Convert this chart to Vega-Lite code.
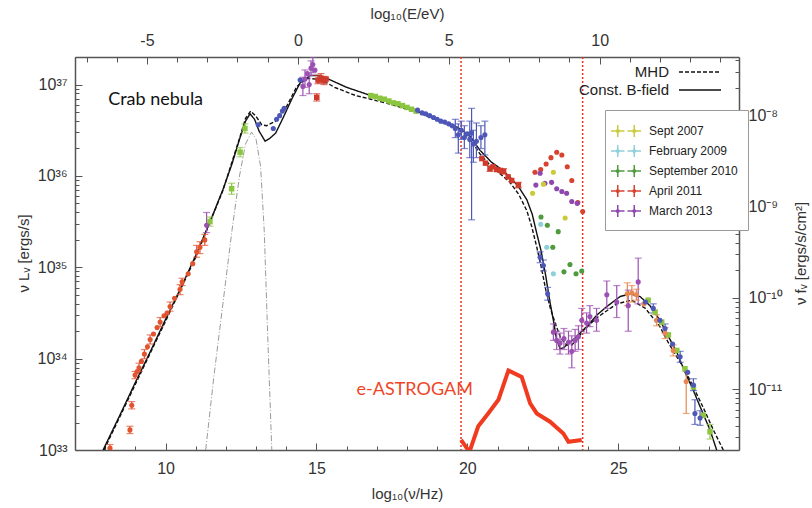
{
  "$schema": "https://vega.github.io/schema/vega-lite/v6.json",
  "width": 664,
  "height": 393,
  "autosize": "none",
  "padding": {"left": 75, "top": 57, "right": 73, "bottom": 58},
  "background": "white",
  "config": {
    "font": "Liberation Sans",
    "view": {"stroke": null},
    "axis": {
      "grid": false, "domainColor": "#555", "domainWidth": 1.5, "tickColor": "#555", "tickWidth": 1,
      "labelFont": "Liberation Sans", "labelFontSize": 16, "labelColor": "#333",
      "titleFont": "Liberation Sans", "titleFontSize": 15, "titleFontWeight": "normal", "titleColor": "#333",
      "labelOverlap": false, "labelFlush": false, "labelBound": false
    },
    "legend": {"labelFont": "Liberation Sans", "labelColor": "#222"}
  },
  "datasets": {
    "curves": [
      {"nu":7.93,"L":33.0,"model":"Const. B-field"},{"nu":8.5,"L":33.39,"model":"Const. B-field"},{"nu":9.0,"L":33.74,"model":"Const. B-field"},{"nu":9.5,"L":34.08,"model":"Const. B-field"},{"nu":10.0,"L":34.43,"model":"Const. B-field"},{"nu":10.5,"L":34.77,"model":"Const. B-field"},{"nu":11.0,"L":35.13,"model":"Const. B-field"},{"nu":11.5,"L":35.52,"model":"Const. B-field"},{"nu":11.9,"L":35.85,"model":"Const. B-field"},{"nu":12.2,"L":36.13,"model":"Const. B-field"},{"nu":12.45,"L":36.4,"model":"Const. B-field"},{"nu":12.65,"L":36.6,"model":"Const. B-field"},{"nu":12.8,"L":36.68,"model":"Const. B-field"},{"nu":12.95,"L":36.62,"model":"Const. B-field"},{"nu":13.1,"L":36.49,"model":"Const. B-field"},{"nu":13.3,"L":36.38,"model":"Const. B-field"},{"nu":13.45,"L":36.41,"model":"Const. B-field"},{"nu":13.65,"L":36.47,"model":"Const. B-field"},{"nu":13.9,"L":36.64,"model":"Const. B-field"},{"nu":14.18,"L":36.84,"model":"Const. B-field"},{"nu":14.46,"L":37.02,"model":"Const. B-field"},{"nu":14.8,"L":37.1,"model":"Const. B-field"},{"nu":15.1,"L":37.1,"model":"Const. B-field"},{"nu":15.4,"L":37.06,"model":"Const. B-field"},{"nu":16.0,"L":36.97,"model":"Const. B-field"},{"nu":16.8,"L":36.88,"model":"Const. B-field"},{"nu":17.5,"L":36.8,"model":"Const. B-field"},{"nu":18.4,"L":36.7,"model":"Const. B-field"},{"nu":19.0,"L":36.62,"model":"Const. B-field"},{"nu":19.5,"L":36.56,"model":"Const. B-field"},{"nu":19.8,"L":36.51,"model":"Const. B-field"},{"nu":20.1,"L":36.43,"model":"Const. B-field"},{"nu":20.42,"L":36.28,"model":"Const. B-field"},{"nu":20.8,"L":36.15,"model":"Const. B-field"},{"nu":21.1,"L":36.08,"model":"Const. B-field"},{"nu":21.41,"L":35.99,"model":"Const. B-field"},{"nu":21.7,"L":35.88,"model":"Const. B-field"},{"nu":21.97,"L":35.74,"model":"Const. B-field"},{"nu":22.15,"L":35.58,"model":"Const. B-field"},{"nu":22.3,"L":35.37,"model":"Const. B-field"},{"nu":22.45,"L":35.17,"model":"Const. B-field"},{"nu":22.6,"L":34.9,"model":"Const. B-field"},{"nu":22.72,"L":34.65,"model":"Const. B-field"},{"nu":22.85,"L":34.42,"model":"Const. B-field"},{"nu":22.95,"L":34.22,"model":"Const. B-field"},{"nu":23.07,"L":34.11,"model":"Const. B-field"},{"nu":23.2,"L":34.12,"model":"Const. B-field"},{"nu":23.35,"L":34.17,"model":"Const. B-field"},{"nu":23.55,"L":34.22,"model":"Const. B-field"},{"nu":23.95,"L":34.35,"model":"Const. B-field"},{"nu":24.3,"L":34.48,"model":"Const. B-field"},{"nu":24.62,"L":34.57,"model":"Const. B-field"},{"nu":25.06,"L":34.68,"model":"Const. B-field"},{"nu":25.4,"L":34.71,"model":"Const. B-field"},{"nu":25.72,"L":34.68,"model":"Const. B-field"},{"nu":26.05,"L":34.58,"model":"Const. B-field"},{"nu":26.38,"L":34.42,"model":"Const. B-field"},{"nu":26.65,"L":34.25,"model":"Const. B-field"},{"nu":26.94,"L":34.07,"model":"Const. B-field"},{"nu":27.2,"L":33.86,"model":"Const. B-field"},{"nu":27.49,"L":33.65,"model":"Const. B-field"},{"nu":27.78,"L":33.42,"model":"Const. B-field"},{"nu":28.04,"L":33.22,"model":"Const. B-field"},{"nu":28.26,"L":33.0,"model":"Const. B-field"},
      {"nu":7.96,"L":33.0,"model":"MHD"},{"nu":9.0,"L":33.72,"model":"MHD"},{"nu":10.0,"L":34.41,"model":"MHD"},{"nu":11.0,"L":35.11,"model":"MHD"},{"nu":11.9,"L":35.84,"model":"MHD"},{"nu":12.45,"L":36.41,"model":"MHD"},{"nu":12.65,"L":36.63,"model":"MHD"},{"nu":12.82,"L":36.71,"model":"MHD"},{"nu":12.98,"L":36.66,"model":"MHD"},{"nu":13.19,"L":36.56,"model":"MHD"},{"nu":13.35,"L":36.55,"model":"MHD"},{"nu":13.65,"L":36.6,"model":"MHD"},{"nu":14.01,"L":36.76,"model":"MHD"},{"nu":14.35,"L":36.98,"model":"MHD"},{"nu":14.7,"L":37.07,"model":"MHD"},{"nu":15.0,"L":37.06,"model":"MHD"},{"nu":15.34,"L":37.02,"model":"MHD"},{"nu":15.6,"L":36.97,"model":"MHD"},{"nu":16.3,"L":36.88,"model":"MHD"},{"nu":16.8,"L":36.84,"model":"MHD"},{"nu":17.5,"L":36.78,"model":"MHD"},{"nu":18.4,"L":36.69,"model":"MHD"},{"nu":19.0,"L":36.61,"model":"MHD"},{"nu":19.5,"L":36.54,"model":"MHD"},{"nu":19.8,"L":36.49,"model":"MHD"},{"nu":20.1,"L":36.4,"model":"MHD"},{"nu":20.42,"L":36.24,"model":"MHD"},{"nu":20.8,"L":36.1,"model":"MHD"},{"nu":21.1,"L":36.02,"model":"MHD"},{"nu":21.41,"L":35.93,"model":"MHD"},{"nu":21.7,"L":35.8,"model":"MHD"},{"nu":21.97,"L":35.62,"model":"MHD"},{"nu":22.13,"L":35.45,"model":"MHD"},{"nu":22.3,"L":35.22,"model":"MHD"},{"nu":22.45,"L":35.0,"model":"MHD"},{"nu":22.6,"L":34.75,"model":"MHD"},{"nu":22.75,"L":34.55,"model":"MHD"},{"nu":22.95,"L":34.35,"model":"MHD"},{"nu":23.1,"L":34.22,"model":"MHD"},{"nu":23.29,"L":34.15,"model":"MHD"},{"nu":23.46,"L":34.15,"model":"MHD"},{"nu":23.65,"L":34.22,"model":"MHD"},{"nu":23.85,"L":34.31,"model":"MHD"},{"nu":24.3,"L":34.45,"model":"MHD"},{"nu":24.95,"L":34.6,"model":"MHD"},{"nu":25.44,"L":34.64,"model":"MHD"},{"nu":25.9,"L":34.55,"model":"MHD"},{"nu":26.38,"L":34.35,"model":"MHD"},{"nu":26.65,"L":34.18,"model":"MHD"},{"nu":26.94,"L":34.02,"model":"MHD"},{"nu":27.2,"L":33.88,"model":"MHD"},{"nu":27.5,"L":33.68,"model":"MHD"},{"nu":27.85,"L":33.44,"model":"MHD"},{"nu":28.15,"L":33.22,"model":"MHD"},{"nu":28.48,"L":33.0,"model":"MHD"}
    ],
    "thermal": [
      {"nu":11.33,"L":33.0},{"nu":11.6,"L":33.8},{"nu":11.9,"L":34.6},{"nu":12.2,"L":35.4},{"nu":12.45,"L":36.0},{"nu":12.65,"L":36.35},{"nu":12.85,"L":36.48},{"nu":13.0,"L":36.4},{"nu":13.15,"L":36.1},{"nu":13.27,"L":35.4},{"nu":13.38,"L":34.3},{"nu":13.52,"L":33.0}
    ],
    "astro": [
      {"nu":19.79,"L":33.11},{"nu":20.07,"L":32.98},{"nu":20.36,"L":33.26},{"nu":20.69,"L":33.4},{"nu":21.03,"L":33.55},{"nu":21.36,"L":33.87},{"nu":21.8,"L":33.8},{"nu":22.08,"L":33.51},{"nu":22.3,"L":33.4},{"nu":22.74,"L":33.31},{"nu":23.18,"L":33.18},{"nu":23.35,"L":33.09},{"nu":23.79,"L":33.11}
    ],
    "vlines": [{"nu":19.79},{"nu":23.82}],
    "notes": [
      {"nu":8.1,"L":36.83,"text":"Crab nebula","kind":"label"},
      {"nu":16.33,"L":33.66,"text":"e-ASTROGAM","kind":"instrument"}
    ],
    "pts": [
      {"nu":8.16,"L":33.02,"lo":32.99,"hi":33.06,"set":"radio"},{"nu":8.82,"L":33.22,"lo":33.18,"hi":33.26,"set":"radio"},{"nu":8.88,"L":33.49,"lo":33.45,"hi":33.53,"set":"radio"},{"nu":8.99,"L":33.82,"lo":33.78,"hi":33.86,"set":"radio"},{"nu":9.06,"L":33.86,"set":"radio"},{"nu":9.12,"L":33.9,"lo":33.86,"hi":33.95,"set":"radio"},{"nu":9.2,"L":33.97,"set":"radio"},{"nu":9.3,"L":34.05,"lo":34.0,"hi":34.1,"set":"radio"},{"nu":9.4,"L":34.13,"set":"radio"},{"nu":9.49,"L":34.21,"lo":34.16,"hi":34.26,"set":"radio"},{"nu":9.6,"L":34.27,"set":"radio"},{"nu":9.72,"L":34.34,"set":"radio"},{"nu":9.82,"L":34.4,"lo":34.35,"hi":34.45,"set":"radio"},{"nu":9.95,"L":34.47,"set":"radio"},{"nu":10.05,"L":34.5,"set":"radio"},{"nu":10.15,"L":34.57,"lo":34.52,"hi":34.62,"set":"radio"},{"nu":10.3,"L":34.66,"set":"radio"},{"nu":10.48,"L":34.76,"lo":34.7,"hi":34.81,"set":"radio"},{"nu":10.55,"L":34.84,"lo":34.8,"hi":34.88,"set":"radio"},{"nu":10.75,"L":34.93,"set":"radio"},{"nu":10.9,"L":35.04,"set":"radio"},{"nu":11.03,"L":35.17,"lo":35.11,"hi":35.24,"set":"radio"},{"nu":11.14,"L":35.22,"lo":35.15,"hi":35.28,"set":"radio"},{"nu":11.3,"L":35.3,"lo":35.24,"hi":35.36,"set":"radio"},
      {"nu":11.36,"L":35.46,"lo":35.38,"hi":35.6,"set":"purple"},
      {"nu":11.47,"L":35.5,"lo":35.45,"hi":35.55,"set":"green"},{"nu":12.19,"L":35.86,"lo":35.8,"hi":35.92,"set":"green"},{"nu":12.47,"L":36.26,"lo":36.21,"hi":36.31,"set":"green"},{"nu":12.63,"L":36.52,"lo":36.47,"hi":36.57,"set":"green"},
      {"nu":13.07,"L":36.56,"set":"blue"},{"nu":13.57,"L":36.52,"set":"blue"},{"nu":13.68,"L":36.62,"set":"blue"},{"nu":13.78,"L":36.66,"set":"blue"},{"nu":13.87,"L":36.71,"set":"blue"},{"nu":13.93,"L":36.74,"set":"blue"},{"nu":14.46,"L":37.05,"set":"blue"},
      {"nu":14.55,"L":36.98,"lo":36.88,"hi":37.08,"set":"purple"},{"nu":14.62,"L":37.06,"lo":36.97,"hi":37.16,"set":"purple"},{"nu":14.7,"L":37.12,"set":"purple"},{"nu":14.76,"L":37.0,"lo":36.9,"hi":37.1,"set":"purple"},{"nu":14.82,"L":37.18,"lo":37.1,"hi":37.26,"set":"purple"},{"nu":14.88,"L":37.22,"lo":37.13,"hi":37.3,"set":"purple"},{"nu":14.95,"L":37.16,"set":"purple"},
      {"nu":15.05,"L":37.05,"lo":37.01,"hi":37.1,"set":"red"},{"nu":15.15,"L":37.07,"lo":37.02,"hi":37.12,"set":"red"},{"nu":15.25,"L":37.04,"lo":37.0,"hi":37.09,"set":"red"},{"nu":15.32,"L":37.06,"set":"red"},{"nu":15.01,"L":36.86,"lo":36.82,"hi":36.9,"set":"red"},
      {"nu":16.8,"L":36.88,"set":"green"},{"nu":16.95,"L":36.87,"set":"green"},{"nu":17.1,"L":36.85,"set":"green"},{"nu":17.25,"L":36.84,"set":"green"},{"nu":17.4,"L":36.82,"set":"green"},{"nu":17.55,"L":36.8,"set":"green"},{"nu":17.7,"L":36.79,"set":"green"},{"nu":17.85,"L":36.77,"set":"green"},{"nu":18.0,"L":36.75,"set":"green"},{"nu":18.15,"L":36.73,"set":"green"},{"nu":18.3,"L":36.71,"set":"green"},
      {"nu":18.35,"L":36.72,"set":"blue"},{"nu":18.5,"L":36.69,"set":"blue"},{"nu":18.62,"L":36.68,"set":"blue"},{"nu":18.75,"L":36.66,"set":"blue"},{"nu":18.88,"L":36.64,"set":"blue"},{"nu":19.0,"L":36.62,"set":"blue"},{"nu":19.12,"L":36.6,"set":"blue"},{"nu":19.25,"L":36.59,"set":"blue"},{"nu":19.38,"L":36.57,"set":"blue"},{"nu":19.5,"L":36.55,"set":"blue"},{"nu":19.6,"L":36.52,"lo":36.42,"hi":36.62,"set":"blue"},{"nu":19.7,"L":36.45,"lo":36.25,"hi":36.57,"set":"blue"},{"nu":19.8,"L":36.5,"lo":36.4,"hi":36.6,"set":"blue"},{"nu":19.9,"L":36.42,"lo":36.3,"hi":36.55,"set":"blue"},{"nu":20.0,"L":36.46,"set":"blue"},{"nu":20.08,"L":36.4,"lo":36.2,"hi":36.6,"set":"blue"},{"nu":20.14,"L":36.47,"lo":35.52,"hi":36.74,"set":"blue"},{"nu":20.2,"L":36.35,"lo":36.15,"hi":36.5,"set":"blue"},{"nu":20.3,"L":36.38,"lo":36.2,"hi":36.58,"set":"blue"},{"nu":20.45,"L":36.42,"lo":36.3,"hi":36.55,"set":"blue"},{"nu":20.58,"L":36.45,"lo":36.23,"hi":36.6,"set":"blue"},
      {"nu":20.48,"L":36.19,"set":"red"},{"nu":20.6,"L":36.14,"set":"red"},{"nu":20.75,"L":36.08,"lo":36.05,"hi":36.11,"set":"red"},{"nu":20.85,"L":36.1,"set":"red"},{"nu":20.97,"L":36.07,"set":"red"},{"nu":21.1,"L":36.06,"set":"red"},{"nu":21.2,"L":36.05,"lo":36.02,"hi":36.08,"set":"red"},{"nu":21.35,"L":35.99,"set":"red"},{"nu":21.47,"L":35.95,"set":"red"},{"nu":21.69,"L":35.9,"lo":35.87,"hi":35.93,"set":"red"},
      {"nu":22.41,"L":35.11,"lo":35.05,"hi":35.17,"set":"blue"},{"nu":22.52,"L":35.02,"lo":34.96,"hi":35.08,"set":"blue"},{"nu":22.66,"L":34.71,"lo":34.64,"hi":34.78,"set":"blue"},
      {"nu":22.85,"L":34.29,"lo":34.2,"hi":34.38,"set":"purple"},{"nu":22.96,"L":34.2,"lo":34.1,"hi":34.3,"set":"purple"},{"nu":23.07,"L":34.17,"lo":34.05,"hi":34.28,"set":"purple"},{"nu":23.2,"L":34.22,"lo":34.1,"hi":34.33,"set":"purple"},{"nu":23.35,"L":34.18,"lo":34.05,"hi":34.3,"set":"purple"},{"nu":23.46,"L":34.08,"lo":33.9,"hi":34.25,"set":"purple"},{"nu":23.57,"L":34.2,"lo":34.08,"hi":34.32,"set":"purple"},{"nu":23.68,"L":34.24,"lo":34.1,"hi":34.36,"set":"purple"},{"nu":23.79,"L":34.42,"lo":34.3,"hi":34.55,"set":"purple"},{"nu":23.95,"L":34.39,"lo":34.28,"hi":34.5,"set":"purple"},{"nu":24.06,"L":34.46,"lo":34.35,"hi":34.58,"set":"purple"},{"nu":24.28,"L":34.42,"lo":34.3,"hi":34.55,"set":"purple"},{"nu":24.62,"L":34.7,"lo":34.55,"hi":34.85,"set":"purple"},{"nu":24.95,"L":34.62,"lo":34.45,"hi":34.8,"set":"purple"},{"nu":25.33,"L":34.58,"lo":34.3,"hi":34.75,"set":"purple"},{"nu":25.66,"L":34.84,"lo":34.6,"hi":35.1,"set":"purple"},
      {"nu":25.3,"L":34.71,"lo":34.58,"hi":34.83,"set":"orange"},{"nu":25.45,"L":34.72,"lo":34.62,"hi":34.8,"set":"orange"},{"nu":25.6,"L":34.7,"lo":34.64,"hi":34.76,"set":"orange"},{"nu":25.85,"L":34.6,"set":"orange"},{"nu":26.27,"L":34.42,"lo":34.36,"hi":34.48,"set":"orange"},{"nu":26.55,"L":34.28,"lo":34.22,"hi":34.34,"set":"orange"},{"nu":26.82,"L":34.09,"lo":34.03,"hi":34.15,"set":"orange"},{"nu":27.25,"L":33.75,"lo":33.4,"hi":33.86,"set":"orange"},
      {"nu":25.99,"L":34.64,"set":"green"},{"nu":26.22,"L":34.51,"set":"green"},{"nu":26.44,"L":34.4,"set":"green"},{"nu":26.66,"L":34.26,"set":"green"},{"nu":26.94,"L":34.09,"set":"green"},{"nu":27.21,"L":33.89,"set":"green"},{"nu":27.49,"L":33.69,"set":"green"},{"nu":27.82,"L":33.38,"set":"green"},{"nu":28.04,"L":33.2,"lo":33.12,"hi":33.28,"set":"green"},
      {"nu":25.9,"L":34.62,"set":"blue"},{"nu":26.16,"L":34.55,"lo":34.5,"hi":34.6,"set":"blue"},{"nu":26.38,"L":34.42,"set":"blue"},{"nu":26.55,"L":34.33,"lo":34.28,"hi":34.38,"set":"blue"},{"nu":26.8,"L":34.16,"set":"blue"},{"nu":27.05,"L":34.02,"lo":33.96,"hi":34.08,"set":"blue"},{"nu":27.3,"L":33.85,"set":"blue"},{"nu":27.49,"L":33.71,"lo":33.65,"hi":33.78,"set":"blue"},{"nu":27.54,"L":33.4,"lo":33.28,"hi":33.55,"set":"blue"},{"nu":27.71,"L":33.35,"lo":33.27,"hi":33.43,"set":"blue"},
      {"nu":22.24,"L":36.04,"set":"April 2011"},{"nu":22.43,"L":36.07,"set":"April 2011"},{"nu":22.61,"L":36.13,"set":"April 2011"},{"nu":22.77,"L":36.2,"set":"April 2011"},{"nu":22.96,"L":36.26,"set":"April 2011"},{"nu":23.13,"L":36.23,"set":"April 2011"},{"nu":23.31,"L":36.1,"set":"April 2011"},{"nu":23.46,"L":35.95,"set":"April 2011"},{"nu":23.66,"L":35.71,"set":"April 2011"},{"nu":23.82,"L":35.61,"set":"April 2011"},
      {"nu":22.41,"L":36.03,"set":"March 2013"},{"nu":22.27,"L":35.9,"set":"March 2013"},{"nu":22.57,"L":35.92,"set":"March 2013"},{"nu":22.79,"L":35.93,"set":"March 2013"},{"nu":22.96,"L":35.86,"set":"March 2013"},{"nu":23.13,"L":35.83,"set":"March 2013"},{"nu":23.29,"L":35.81,"set":"March 2013"},{"nu":23.46,"L":35.72,"set":"March 2013"},{"nu":23.64,"L":35.7,"set":"March 2013"},
      {"nu":22.16,"L":35.81,"set":"Sept 2007"},{"nu":22.52,"L":35.91,"set":"Sept 2007"},{"nu":22.85,"L":36.04,"set":"Sept 2007"},{"nu":23.24,"L":35.54,"set":"Sept 2007"},
      {"nu":22.43,"L":35.47,"set":"February 2009"},{"nu":22.63,"L":35.22,"set":"February 2009"},{"nu":22.85,"L":34.93,"set":"February 2009"},
      {"nu":22.44,"L":35.55,"set":"September 2010"},{"nu":22.65,"L":35.46,"set":"September 2010"},{"nu":23.01,"L":35.39,"set":"September 2010"},{"nu":22.83,"L":35.22,"set":"September 2010"},{"nu":23.2,"L":34.95,"set":"September 2010"},{"nu":23.4,"L":35.03,"set":"September 2010"},{"nu":23.6,"L":34.93,"set":"September 2010"},{"nu":23.79,"L":34.96,"set":"September 2010"}
    ]
  },
  "layer": [
    {
      "layer": [
        {
          "data": {"name": "vlines"},
          "mark": {"type": "rule", "color": "#e8311f", "strokeDash": [2, 2], "strokeWidth": 1.5},
          "encoding": {
            "x": {"field": "nu", "type": "quantitative", "scale": {"domain": [7, 29], "nice": false, "zero": false}, "axis": null}
          }
        },
        {
          "data": {"name": "thermal"},
          "mark": {"type": "line", "color": "#9a9a9a", "strokeDash": [6, 2, 1, 2], "strokeWidth": 1, "clip": true},
          "encoding": {
            "x": {"field": "nu", "type": "quantitative", "scale": {"domain": [7, 29], "nice": false, "zero": false}, "axis": null},
            "y": {"field": "L", "type": "quantitative", "scale": {"domain": [33, 37.302], "nice": false, "zero": false}, "axis": null}
          }
        },
        {
          "data": {"name": "curves"},
          "mark": {"type": "line", "color": "#111", "strokeWidth": 1.4, "clip": true},
          "encoding": {
            "x": {"field": "nu", "type": "quantitative", "scale": {"domain": [7, 29], "nice": false, "zero": false}, "axis": null},
            "y": {"field": "L", "type": "quantitative", "scale": {"domain": [33, 37.302], "nice": false, "zero": false}, "axis": null},
            "strokeDash": {
              "field": "model", "type": "nominal",
              "scale": {"domain": ["MHD", "Const. B-field"], "range": [[4, 2], [1, 0]]},
              "legend": {
                "title": null, "orient": "none", "legendX": 617, "legendY": 7, "padding": 0,
                "symbolType": "M-3,0H3", "symbolSize": 196, "symbolStrokeColor": "#111", "symbolStrokeWidth": 1.3,
                "labelAlign": "right", "labelOffset": -39, "labelFontSize": 15, "labelColor": "#222", "rowPadding": 2
              }
            }
          }
        },
        {
          "data": {"name": "astro"},
          "mark": {"type": "line", "color": "#f03b20", "strokeWidth": 4, "clip": true, "strokeJoin": "miter"},
          "encoding": {
            "x": {"field": "nu", "type": "quantitative", "scale": {"domain": [7, 29], "nice": false, "zero": false}, "axis": null},
            "y": {"field": "L", "type": "quantitative", "scale": {"domain": [33, 37.302], "nice": false, "zero": false}, "axis": null}
          }
        },
        {
          "data": {"name": "pts"},
          "transform": [{"filter": "isValid(datum.lo)"}],
          "mark": {"type": "rule", "strokeWidth": 1.2, "clip": true},
          "encoding": {
            "x": {"field": "nu", "type": "quantitative", "scale": {"domain": [7, 29], "nice": false, "zero": false}, "axis": null},
            "y": {"field": "lo", "type": "quantitative", "scale": {"domain": [33, 37.302], "nice": false, "zero": false}, "axis": null},
            "y2": {"field": "hi"},
            "color": {
              "field": "set", "type": "nominal",
              "scale": {
                "domain": ["Sept 2007","February 2009","September 2010","April 2011","March 2013","radio","green","blue","purple","red","orange"],
                "range": ["#c9cb3a","#8ed0d9","#4f9a3d","#d8432f","#8d47ad","#e2532f","#8cc540","#4d57b8","#9b50b2","#cf3a2c","#e8874f"]
              },
              "legend": {
                "title": null, "orient": "none", "legendX": 530, "legendY": 53,
                "values": ["Sept 2007","February 2009","September 2010","April 2011","March 2013"],
                "fillColor": "white", "strokeColor": "#9a9a9a", "padding": 10,
                "symbolType": "M-1.5,0H-0.15M-0.825,-0.6V0.6M0.15,0H1.5M0.825,-0.6V0.6M-0.825,-0.12A0.12,0.12 0 1,0 -0.825,0.12A0.12,0.12 0 1,0 -0.825,-0.12M0.825,-0.12A0.12,0.12 0 1,0 0.825,0.12A0.12,0.12 0 1,0 0.825,-0.12",
                "symbolSize": 400, "symbolStrokeWidth": 1.5, "labelOffset": 12, "labelFontSize": 12, "labelColor": "#222", "rowPadding": -1,
                "encode": {"symbols": {"update": {"stroke": {"scale": "color", "field": "value"}, "fill": {"scale": "color", "field": "value"}, "strokeWidth": {"value": 1.5}}}}
              }
            }
          }
        },
        {
          "data": {"name": "pts"},
          "transform": [{"filter": "isValid(datum.lo)"}],
          "mark": {"type": "tick", "orient": "horizontal", "size": 7, "thickness": 1.2, "clip": true},
          "encoding": {
            "x": {"field": "nu", "type": "quantitative", "scale": {"domain": [7, 29], "nice": false, "zero": false}, "axis": null},
            "y": {"field": "lo", "type": "quantitative", "scale": {"domain": [33, 37.302], "nice": false, "zero": false}, "axis": null},
            "color": {
              "field": "set", "type": "nominal",
              "scale": {
                "domain": ["Sept 2007","February 2009","September 2010","April 2011","March 2013","radio","green","blue","purple","red","orange"],
                "range": ["#c9cb3a","#8ed0d9","#4f9a3d","#d8432f","#8d47ad","#e2532f","#8cc540","#4d57b8","#9b50b2","#cf3a2c","#e8874f"]
              },
              "legend": {
                "title": null, "orient": "none", "legendX": 530, "legendY": 53,
                "values": ["Sept 2007","February 2009","September 2010","April 2011","March 2013"],
                "fillColor": "white", "strokeColor": "#9a9a9a", "padding": 10,
                "symbolType": "M-1.5,0H-0.15M-0.825,-0.6V0.6M0.15,0H1.5M0.825,-0.6V0.6M-0.825,-0.12A0.12,0.12 0 1,0 -0.825,0.12A0.12,0.12 0 1,0 -0.825,-0.12M0.825,-0.12A0.12,0.12 0 1,0 0.825,0.12A0.12,0.12 0 1,0 0.825,-0.12",
                "symbolSize": 400, "symbolStrokeWidth": 1.5, "labelOffset": 12, "labelFontSize": 12, "labelColor": "#222", "rowPadding": -1,
                "encode": {"symbols": {"update": {"stroke": {"scale": "color", "field": "value"}, "fill": {"scale": "color", "field": "value"}, "strokeWidth": {"value": 1.5}}}}
              }
            }
          }
        },
        {
          "data": {"name": "pts"},
          "transform": [{"filter": "isValid(datum.hi)"}],
          "mark": {"type": "tick", "orient": "horizontal", "size": 7, "thickness": 1.2, "clip": true},
          "encoding": {
            "x": {"field": "nu", "type": "quantitative", "scale": {"domain": [7, 29], "nice": false, "zero": false}, "axis": null},
            "y": {"field": "hi", "type": "quantitative", "scale": {"domain": [33, 37.302], "nice": false, "zero": false}, "axis": null},
            "color": {
              "field": "set", "type": "nominal",
              "scale": {
                "domain": ["Sept 2007","February 2009","September 2010","April 2011","March 2013","radio","green","blue","purple","red","orange"],
                "range": ["#c9cb3a","#8ed0d9","#4f9a3d","#d8432f","#8d47ad","#e2532f","#8cc540","#4d57b8","#9b50b2","#cf3a2c","#e8874f"]
              },
              "legend": {
                "title": null, "orient": "none", "legendX": 530, "legendY": 53,
                "values": ["Sept 2007","February 2009","September 2010","April 2011","March 2013"],
                "fillColor": "white", "strokeColor": "#9a9a9a", "padding": 10,
                "symbolType": "M-1.5,0H-0.15M-0.825,-0.6V0.6M0.15,0H1.5M0.825,-0.6V0.6M-0.825,-0.12A0.12,0.12 0 1,0 -0.825,0.12A0.12,0.12 0 1,0 -0.825,-0.12M0.825,-0.12A0.12,0.12 0 1,0 0.825,0.12A0.12,0.12 0 1,0 0.825,-0.12",
                "symbolSize": 400, "symbolStrokeWidth": 1.5, "labelOffset": 12, "labelFontSize": 12, "labelColor": "#222", "rowPadding": -1,
                "encode": {"symbols": {"update": {"stroke": {"scale": "color", "field": "value"}, "fill": {"scale": "color", "field": "value"}, "strokeWidth": {"value": 1.5}}}}
              }
            }
          }
        },
        {
          "data": {"name": "pts"},
          "transform": [{"filter": "datum.set == 'green' || datum.set == 'red'"}],
          "mark": {"type": "square", "size": 30, "opacity": 1, "clip": true},
          "encoding": {
            "x": {"field": "nu", "type": "quantitative", "scale": {"domain": [7, 29], "nice": false, "zero": false}, "axis": null},
            "y": {"field": "L", "type": "quantitative", "scale": {"domain": [33, 37.302], "nice": false, "zero": false}, "axis": null},
            "color": {
              "field": "set", "type": "nominal",
              "scale": {
                "domain": ["Sept 2007","February 2009","September 2010","April 2011","March 2013","radio","green","blue","purple","red","orange"],
                "range": ["#c9cb3a","#8ed0d9","#4f9a3d","#d8432f","#8d47ad","#e2532f","#8cc540","#4d57b8","#9b50b2","#cf3a2c","#e8874f"]
              },
              "legend": {
                "title": null, "orient": "none", "legendX": 530, "legendY": 53,
                "values": ["Sept 2007","February 2009","September 2010","April 2011","March 2013"],
                "fillColor": "white", "strokeColor": "#9a9a9a", "padding": 10,
                "symbolType": "M-1.5,0H-0.15M-0.825,-0.6V0.6M0.15,0H1.5M0.825,-0.6V0.6M-0.825,-0.12A0.12,0.12 0 1,0 -0.825,0.12A0.12,0.12 0 1,0 -0.825,-0.12M0.825,-0.12A0.12,0.12 0 1,0 0.825,0.12A0.12,0.12 0 1,0 0.825,-0.12",
                "symbolSize": 400, "symbolStrokeWidth": 1.5, "labelOffset": 12, "labelFontSize": 12, "labelColor": "#222", "rowPadding": -1,
                "encode": {"symbols": {"update": {"stroke": {"scale": "color", "field": "value"}, "fill": {"scale": "color", "field": "value"}, "strokeWidth": {"value": 1.5}}}}
              }
            }
          }
        },
        {
          "data": {"name": "pts"},
          "transform": [{"filter": "datum.set != 'green' && datum.set != 'red'"}],
          "mark": {"type": "point", "filled": true, "opacity": 1, "size": 26, "clip": true},
          "encoding": {
            "x": {"field": "nu", "type": "quantitative", "scale": {"domain": [7, 29], "nice": false, "zero": false}, "axis": null},
            "y": {"field": "L", "type": "quantitative", "scale": {"domain": [33, 37.302], "nice": false, "zero": false}, "axis": null},
            "color": {
              "field": "set", "type": "nominal",
              "scale": {
                "domain": ["Sept 2007","February 2009","September 2010","April 2011","March 2013","radio","green","blue","purple","red","orange"],
                "range": ["#c9cb3a","#8ed0d9","#4f9a3d","#d8432f","#8d47ad","#e2532f","#8cc540","#4d57b8","#9b50b2","#cf3a2c","#e8874f"]
              },
              "legend": {
                "title": null, "orient": "none", "legendX": 530, "legendY": 53,
                "values": ["Sept 2007","February 2009","September 2010","April 2011","March 2013"],
                "fillColor": "white", "strokeColor": "#9a9a9a", "padding": 10,
                "symbolType": "M-1.5,0H-0.15M-0.825,-0.6V0.6M0.15,0H1.5M0.825,-0.6V0.6M-0.825,-0.12A0.12,0.12 0 1,0 -0.825,0.12A0.12,0.12 0 1,0 -0.825,-0.12M0.825,-0.12A0.12,0.12 0 1,0 0.825,0.12A0.12,0.12 0 1,0 0.825,-0.12",
                "symbolSize": 400, "symbolStrokeWidth": 1.5, "labelOffset": 12, "labelFontSize": 12, "labelColor": "#222", "rowPadding": -1,
                "encode": {"symbols": {"update": {"stroke": {"scale": "color", "field": "value"}, "fill": {"scale": "color", "field": "value"}, "strokeWidth": {"value": 1.5}}}}
              }
            }
          }
        },
        {
          "data": {"name": "notes"},
          "transform": [{"filter": "datum.kind == 'label'"}],
          "mark": {"type": "text", "align": "left", "baseline": "middle", "font": "Lato", "fontSize": 18, "color": "#111"},
          "encoding": {
            "x": {"field": "nu", "type": "quantitative", "scale": {"domain": [7, 29], "nice": false, "zero": false}, "axis": null},
            "y": {"field": "L", "type": "quantitative", "scale": {"domain": [33, 37.302], "nice": false, "zero": false}, "axis": null},
            "text": {"field": "text"}
          }
        },
        {
          "data": {"name": "notes"},
          "transform": [{"filter": "datum.kind == 'instrument'"}],
          "mark": {"type": "text", "align": "left", "baseline": "middle", "font": "Lato", "fontSize": 18, "color": "#ef4526"},
          "encoding": {
            "x": {"field": "nu", "type": "quantitative", "scale": {"domain": [7, 29], "nice": false, "zero": false}, "axis": null},
            "y": {"field": "L", "type": "quantitative", "scale": {"domain": [33, 37.302], "nice": false, "zero": false}, "axis": null},
            "text": {"field": "text"}
          }
        }
      ]
    },
    {
      "data": {"name": "vlines"},
      "mark": {"type": "point", "opacity": 0, "clip": true},
      "encoding": {
        "x": {
          "field": "nu", "type": "quantitative", "scale": {"domain": [7, 29], "nice": false, "zero": false},
          "axis": {
            "orient": "bottom", "title": "log₁₀(ν/Hz)", "titleX": 332, "titleY": 43, "titleAlign": "center", "titleBaseline": "middle",
            "labelPadding": 17, "labelOverlap": false,
            "values": [8,9,10,11,12,13,14,15,16,17,18,19,20,21,22,23,24,25,26,27,28],
            "labelExpr": "datum.value % 5 == 0 ? '' + datum.value : ''",
            "tickSize": {"condition": {"test": "datum.value % 5 == 0", "value": -7}, "value": -4}
          }
        },
        "y": {
          "field": "nu", "type": "quantitative", "scale": {"domain": [33, 37.302], "nice": false, "zero": false},
          "axis": {
            "orient": "left", "title": "ν Lᵥ [ergs/s]", "titleX": -52, "titleY": 196, "titleAngle": 270, "titleAlign": "center", "titleBaseline": "middle",
            "labelPadding": 15, "labelOverlap": false,
            "values": [33,33.30103,33.47712,33.60206,33.69897,33.77815,33.8451,33.90309,33.95424,34,34.30103,34.47712,34.60206,34.69897,34.77815,34.8451,34.90309,34.95424,35,35.30103,35.47712,35.60206,35.69897,35.77815,35.8451,35.90309,35.95424,36,36.30103,36.47712,36.60206,36.69897,36.77815,36.8451,36.90309,36.95424,37,37.30103],
            "labelExpr": "datum.value == 33 ? '10³³' : datum.value == 34 ? '10³⁴' : datum.value == 35 ? '10³⁵' : datum.value == 36 ? '10³⁶' : datum.value == 37 ? '10³⁷' : ''",
            "tickSize": {"condition": {"test": "datum.value == round(datum.value)", "value": -7}, "value": -4}
          }
        }
      }
    },
    {
      "data": {"name": "vlines"},
      "mark": {"type": "point", "opacity": 0, "clip": true},
      "encoding": {
        "x": {
          "field": "nu", "type": "quantitative", "scale": {"domain": [-7.383, 14.617], "nice": false, "zero": false},
          "axis": {
            "orient": "top", "title": "log₁₀(E/eV)", "titleX": 332, "titleY": -44, "titleAlign": "center", "titleBaseline": "middle",
            "labelPadding": 16, "labelOverlap": false,
            "values": [-7,-6,-5,-4,-3,-2,-1,0,1,2,3,4,5,6,7,8,9,10,11,12,13,14],
            "labelExpr": "datum.value % 5 == 0 ? '' + datum.value : ''",
            "tickSize": {"condition": {"test": "datum.value % 5 == 0", "value": -7}, "value": -5}
          }
        },
        "y": {
          "field": "nu", "type": "quantitative", "scale": {"domain": [-11.665, -7.363], "nice": false, "zero": false},
          "axis": {
            "orient": "right", "title": "ν fᵥ [ergs/s/cm²]", "titleX": 61, "titleY": 196, "titleAngle": 270, "titleAlign": "center", "titleBaseline": "middle",
            "labelPadding": 16, "labelOverlap": false,
            "values": [-11.52288,-11.39794,-11.30103,-11.22185,-11.1549,-11.09691,-11.04576,-11,-10.69897,-10.52288,-10.39794,-10.30103,-10.22185,-10.1549,-10.09691,-10.04576,-10,-9.69897,-9.52288,-9.39794,-9.30103,-9.22185,-9.1549,-9.09691,-9.04576,-9,-8.69897,-8.52288,-8.39794,-8.30103,-8.22185,-8.1549,-8.09691,-8.04576,-8,-7.69897,-7.52288,-7.39794],
            "labelExpr": "datum.value == -11 ? '10⁻¹¹' : datum.value == -10 ? '10⁻¹⁰' : datum.value == -9 ? '10⁻⁹' : datum.value == -8 ? '10⁻⁸' : ''",
            "tickSize": {"condition": {"test": "datum.value == round(datum.value)", "value": -7}, "value": -4}
          }
        }
      }
    }
  ],
  "resolve": {"scale": {"x": "independent", "y": "independent"}}
}
